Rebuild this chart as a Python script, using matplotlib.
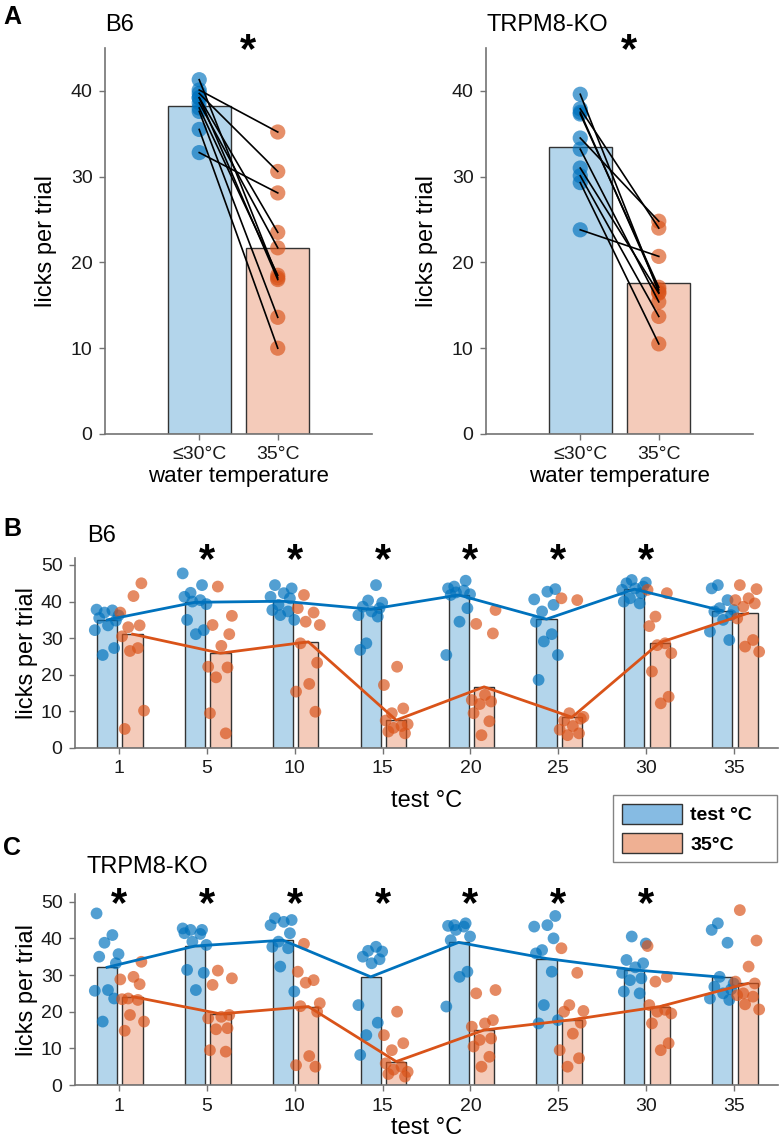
import numpy as np
import matplotlib.pyplot as plt
from matplotlib.patches import Patch

plt.rcParams['font.family'] = ['Liberation Sans', 'DejaVu Sans']

BLUE = '#0072BD'
ORANGE = '#D95319'
BAR_BLUE = '#b3d5eb'
BAR_ORANGE = '#f4cbba'
SPINE = '0.45'

# ---- panel A: paired licks, <=30 vs 35 C
a_labels = ['≤30°C', '35°C']
b6_cool = [40.1, 39.7, 32.8, 39.2, 38.6, 41.3, 38.0, 39.2, 37.6, 35.5]
b6_warm = [35.2, 30.6, 28.1, 23.5, 21.7, 18.2, 18.5, 18.0, 13.6, 10.0]
b6_means = [38.2, 21.7]
ko_cool = [39.6, 37.9, 37.5, 37.3, 34.5, 33.2, 31.0, 30.1, 29.3, 23.8]
ko_warm = [16.5, 24.0, 16.8, 17.1, 24.8, 15.4, 16.4, 13.7, 10.5, 20.7]
ko_means = [33.4, 17.6]

# ---- panels B, C: per test temperature
temps = [1, 5, 10, 15, 20, 25, 30, 35]

b6_test_mean = [35.0, 39.8, 40.1, 37.9, 41.8, 35.2, 43.4, 37.5]
b6_ref_mean = [31.1, 25.9, 29.0, 7.6, 16.7, 8.4, 28.8, 36.8]
b6_test_pts = [
    [37.8, 37.6, 37.0, 36.2, 35.5, 34.8, 33.5, 32.2, 27.3, 25.4],
    [47.7, 44.5, 42.4, 41.3, 40.4, 40.0, 39.3, 35.0, 32.2, 31.1],
    [44.5, 43.6, 42.3, 41.3, 40.9, 39.1, 37.7, 37.3, 36.3, 35.0],
    [44.5, 40.3, 39.7, 38.6, 38.2, 37.3, 36.3, 35.9, 28.6, 26.8],
    [45.7, 44.1, 43.6, 43.0, 42.5, 42.0, 41.8, 38.2, 34.5, 25.4],
    [43.4, 42.7, 40.6, 39.1, 37.3, 34.5, 31.1, 29.1, 25.4, 18.6],
    [45.9, 45.2, 45.0, 44.1, 43.6, 43.2, 42.3, 40.9, 40.0, 39.5],
    [44.5, 43.6, 40.4, 38.2, 37.7, 37.3, 36.3, 35.0, 31.8, 29.5],
]
b6_ref_pts = [
    [45.0, 41.5, 37.0, 33.5, 33.0, 30.5, 27.3, 26.5, 10.2, 5.2],
    [44.1, 36.1, 33.6, 31.1, 27.9, 22.2, 22.0, 19.3, 9.5, 4.0],
    [41.8, 38.2, 37.0, 34.5, 33.6, 28.6, 23.3, 17.5, 15.4, 9.9],
    [22.2, 17.2, 10.8, 9.5, 7.5, 6.0, 5.5, 6.5, 4.5, 4.0],
    [37.7, 33.9, 31.3, 14.5, 13.1, 12.7, 12.0, 9.5, 7.3, 3.5],
    [40.9, 40.4, 9.5, 8.5, 7.5, 8.0, 6.0, 5.0, 4.0, 3.5],
    [43.2, 42.3, 35.9, 33.3, 28.6, 28.1, 25.9, 20.9, 14.0, 12.2],
    [44.5, 43.4, 40.9, 40.4, 39.5, 38.6, 35.4, 29.5, 27.7, 26.3],
]
b6_sig = [False, True, True, True, True, True, True, False]

ko_test_mean = [32.1, 37.9, 39.5, 29.5, 38.9, 34.5, 31.4, 29.4]
ko_ref_mean = [24.1, 19.4, 21.4, 6.4, 15.0, 17.8, 21.4, 27.7]
ko_test_pts = [
    [46.8, 40.9, 38.8, 35.7, 35.0, 33.2, 25.9, 25.7, 23.6, 17.3],
    [42.7, 42.3, 42.3, 41.4, 41.2, 39.1, 38.2, 31.4, 30.6, 25.9],
    [45.5, 45.0, 44.5, 43.6, 41.4, 39.1, 37.7, 37.3, 32.3, 25.5],
    [37.7, 36.6, 36.4, 35.0, 34.3, 33.2, 21.8, 17.0, 13.6, 8.2],
    [44.1, 43.6, 43.4, 43.2, 42.3, 40.5, 39.5, 30.9, 29.5, 21.4],
    [46.1, 43.6, 43.2, 40.0, 36.8, 35.9, 30.9, 21.8, 17.7, 16.8],
    [40.5, 38.6, 34.1, 33.2, 32.1, 30.6, 29.1, 28.6, 25.5, 25.0],
    [44.1, 42.3, 38.8, 29.5, 27.7, 26.8, 26.1, 25.0, 23.6, 23.2],
]
ko_ref_pts = [
    [33.6, 29.5, 28.8, 27.5, 23.6, 23.4, 23.2, 19.1, 17.3, 14.8],
    [31.2, 29.1, 27.3, 19.1, 18.6, 18.2, 15.5, 15.2, 9.5, 9.1],
    [38.5, 30.9, 28.6, 27.9, 22.3, 21.5, 20.0, 7.9, 5.4, 5.0],
    [20.0, 13.6, 11.4, 9.5, 5.9, 5.0, 4.2, 3.6, 3.0, 2.3],
    [25.9, 25.0, 17.7, 16.8, 15.9, 12.7, 12.3, 10.5, 7.7, 5.0],
    [37.3, 30.6, 21.8, 20.2, 20.0, 17.0, 14.0, 9.5, 7.3, 5.0],
    [37.9, 29.5, 28.2, 21.8, 20.5, 20.0, 19.5, 16.8, 11.4, 9.5],
    [47.7, 39.4, 32.3, 28.2, 27.7, 25.0, 24.5, 24.1, 22.0, 20.6],
]
ko_sig = [True, True, True, True, True, True, True, False]

JITTER = np.array([-0.12, 0.06, -0.03, 0.13, -0.09, 0.10, 0.01, -0.14, 0.08, -0.05])


def style_axes(ax):
    for s in ['top', 'right']:
        ax.spines[s].set_visible(False)
    for s in ['left', 'bottom']:
        ax.spines[s].set_color(SPINE)
        ax.spines[s].set_linewidth(1.2)
    ax.tick_params(direction='out', length=4, width=1.0, color=SPINE, pad=5,
                   labelsize=14, labelcolor='0.1')


def pair_panel(ax, cool, warm, means, title):
    x = np.arange(2)
    ax.bar(x, means, width=0.8, color=[BAR_BLUE, BAR_ORANGE],
           edgecolor='0.2', linewidth=1.0, zorder=1)
    for c, w in zip(cool, warm):
        ax.plot([0, 1], [c, w], color='k', lw=1.2, zorder=4)
    ax.scatter(np.zeros(len(cool)), cool, s=120, color=BLUE, alpha=0.65,
               edgecolors='none', zorder=3)
    ax.scatter(np.ones(len(warm)), warm, s=120, color=ORANGE, alpha=0.65,
               edgecolors='none', zorder=3)
    ax.set_xlim(-1.2, 2.2)
    ax.set_ylim(0, 45)
    ax.set_yticks([0, 10, 20, 30, 40])
    ax.set_xticks(x, a_labels)
    style_axes(ax)
    ax.set_ylabel('licks per trial', fontsize=17, labelpad=10)
    ax.set_xlabel('water temperature', fontsize=16, labelpad=2)
    ax.text(0.0, 1.045, title, transform=ax.transAxes, fontsize=17,
            ha='left', va='baseline')
    ax.text(0.62, 42.3, '*', fontsize=30, fontweight='bold',
            ha='center', va='bottom', clip_on=False)


def temp_panel(ax, test_mean, ref_mean, test_pts, ref_pts, sig, title,
               title_y, star_y, xpad):
    pos = np.arange(1, len(temps) + 1)
    xb = pos - 0.135
    xo = pos + 0.155
    ax.bar(xb, test_mean, width=0.23, color=BAR_BLUE, edgecolor='0.2',
           linewidth=1.0, zorder=1)
    ax.bar(xo, ref_mean, width=0.23, color=BAR_ORANGE, edgecolor='0.2',
           linewidth=1.0, zorder=1)
    for i in range(len(temps)):
        ax.scatter(xb[i] + np.roll(JITTER, 3 * i), test_pts[i], s=72,
                   color=BLUE, alpha=0.68, edgecolors='none', zorder=3)
        ax.scatter(xo[i] + np.roll(JITTER, 3 * i + 5), ref_pts[i], s=72,
                   color=ORANGE, alpha=0.68, edgecolors='none', zorder=3)
    ax.plot(xb, test_mean, color=BLUE, lw=2, zorder=4)
    ax.plot(xo, ref_mean, color=ORANGE, lw=2, zorder=4)
    for i, p in enumerate(pos):
        if sig[i]:
            ax.text(p, star_y, '*', fontsize=30, fontweight='bold',
                    ha='center', va='bottom', clip_on=False)
    ax.set_xlim(0.5, 8.5)
    ax.set_ylim(0, 52)
    ax.set_yticks([0, 10, 20, 30, 40, 50])
    ax.set_xticks(pos, [str(t) for t in temps])
    style_axes(ax)
    ax.set_ylabel('licks per trial', fontsize=17, labelpad=2)
    ax.set_xlabel('test °C', fontsize=17, labelpad=xpad)
    ax.text(0.017, title_y, title, transform=ax.transAxes, fontsize=17,
            ha='left', va='baseline')


if __name__ == "__main__":
    fig = plt.figure(figsize=(7.8, 11.39), dpi=100)

    axA1 = fig.add_axes([0.1346, 0.619, 0.3423, 0.3389])
    axA2 = fig.add_axes([0.6231, 0.619, 0.3423, 0.3389])
    axB = fig.add_axes([0.0962, 0.3433, 0.9013, 0.1671])
    axC = fig.add_axes([0.0962, 0.0474, 0.9013, 0.1674])

    pair_panel(axA1, b6_cool, b6_warm, b6_means, 'B6')
    pair_panel(axA2, ko_cool, ko_warm, ko_means, 'TRPM8-KO')
    temp_panel(axB, b6_test_mean, b6_ref_mean, b6_test_pts, b6_ref_pts,
               b6_sig, 'B6', 1.082, 45.6, 9)
    temp_panel(axC, ko_test_mean, ko_ref_mean, ko_test_pts, ko_ref_pts,
               ko_sig, 'TRPM8-KO', 1.11, 43.6, 2)

    for lab, y in [('A', 0.996), ('B', 0.546), ('C', 0.266)]:
        fig.text(0.004, y, lab, fontsize=18, fontweight='bold', ha='left', va='top')

    handles = [Patch(facecolor='#86bbe3', edgecolor='0.2', label='test °C   '),
               Patch(facecolor='#efb093', edgecolor='0.2', label='35°C')]
    fig.legend(handles=handles, loc='upper right', bbox_to_anchor=(0.996, 0.302),
               prop={'weight': 'bold', 'size': 14}, frameon=True, fancybox=False,
               edgecolor='0.4', handlelength=3.1, handleheight=1.2,
               borderaxespad=0, borderpad=0.45, labelspacing=0.45, handletextpad=0.4)

    fig.savefig('out.png', dpi=100)
